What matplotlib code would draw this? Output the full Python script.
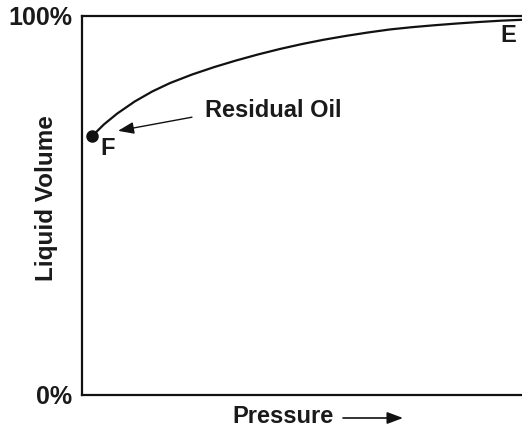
import matplotlib
matplotlib.use("Agg")
import matplotlib.pyplot as plt
from matplotlib.patches import FancyArrowPatch

plt.rcParams["font.family"] = ["Liberation Sans", "DejaVu Sans"]

# curve (pressure fraction, liquid volume fraction)
pressure = [0.023, 0.05, 0.08, 0.12, 0.16, 0.20, 0.25, 0.30, 0.35, 0.40,
            0.45, 0.50, 0.55, 0.60, 0.65, 0.70, 0.75, 0.80, 0.85, 0.90,
            0.95, 1.0]
liquid = [0.683, 0.714, 0.7425, 0.7745, 0.801, 0.823, 0.8455, 0.865, 0.8825,
          0.8985, 0.913, 0.926, 0.9375, 0.9475, 0.9565, 0.9645, 0.9705,
          0.9755, 0.980, 0.984, 0.9875, 0.990]
y_ticks = [0, 1]
y_tick_labels = ["0%", "100%"]
point_f = (0.023, 0.683)

fig = plt.figure(figsize=(5.22, 4.30), dpi=100)
ax = fig.add_axes([0.157, 0.0814, 0.843, 0.8814])

ax.plot(pressure, liquid, color="#111111", lw=1.6, solid_capstyle="round",
        solid_joinstyle="round")
ax.plot(*point_f, "o", color="#111111", ms=8)

ax.set_xlim(0, 1)
ax.set_ylim(0, 1)
ax.set_xticks([])
ax.set_yticks(y_ticks)
ax.set_yticklabels(y_tick_labels, fontsize=18, fontweight="bold", color="#1a1a1a")
ax.tick_params(axis="y", length=0, pad=7)
for side in ["left", "top", "bottom"]:
    ax.spines[side].set_linewidth(1.6)
    ax.spines[side].set_color("#111111")
ax.spines["right"].set_visible(False)

fig.text(47 / 522, 1 - 198 / 430, "Liquid Volume", fontsize=17.5,
         fontweight="bold", rotation=90, ha="center", va="center", color="#1a1a1a")

ax.text(0.041, 0.633, "F", fontsize=17, fontweight="bold",
        ha="left", va="baseline", color="#1a1a1a")
ax.text(0.950, 0.931, "E", fontsize=17, fontweight="bold",
        ha="left", va="baseline", color="#1a1a1a")

ax.annotate("", xy=(0.082, 0.697), xytext=(0.25, 0.733),
            arrowprops=dict(arrowstyle="-|>,head_length=0.8,head_width=0.3",
                            color="#111111", lw=1.0, mutation_scale=12,
                            shrinkA=0, shrinkB=0))
ax.text(0.280, 0.733, "Residual Oil", fontsize=17, fontweight="bold",
        ha="left", va="baseline", color="#1a1a1a")

fig.text(232 / 522, 7 / 430, "Pressure", fontsize=17, fontweight="bold",
         ha="left", va="baseline", color="#1a1a1a")
fig.patches.append(FancyArrowPatch(
    (343 / 522, 12 / 430), (403 / 522, 12 / 430), transform=fig.transFigure,
    arrowstyle="-|>,head_length=0.8,head_width=0.3", color="#111111",
    lw=1.2, mutation_scale=12, shrinkA=0, shrinkB=0))

fig.savefig("out.png", dpi=100)
